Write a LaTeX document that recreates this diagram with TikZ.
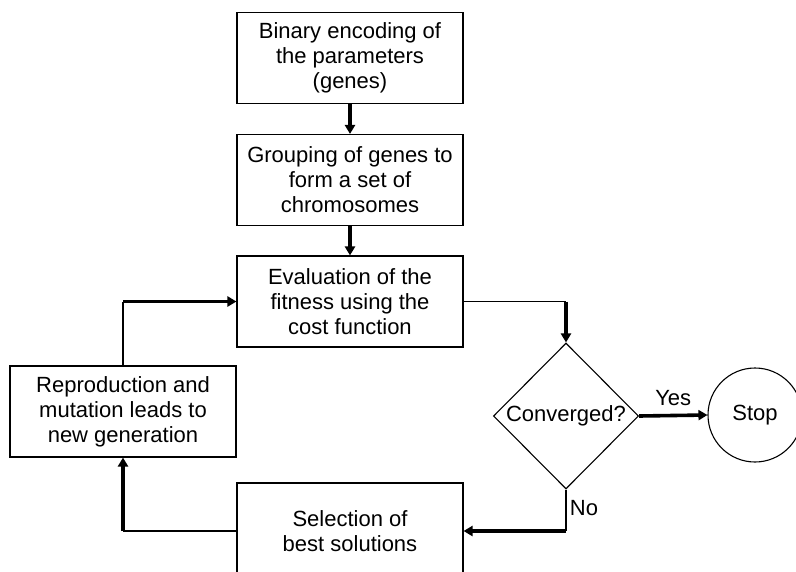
\documentclass[tikz,border=0pt]{standalone}
\usepackage{fontspec}
\setmainfont{Liberation Sans}
\usetikzlibrary{shapes.geometric,arrows.meta}

\begin{document}
\begin{tikzpicture}[x=1pt,y=-1pt,
  txt/.style={font=\fontsize{22}{25}\selectfont},
  box/.style={draw,line width=1.1pt,align=center,inner sep=0pt,
    minimum width=226pt,minimum height=91pt,txt},
  wire/.style={line width=1.1pt},
  flow/.style={line width=3.6pt,-{Triangle[length=9pt,width=10pt]}}]
\useasboundingbox (0,0) rectangle (796,571);
\clip (0,0) rectangle (796,571);
% boxes
\node[box] (enc) at (350,58) {Binary encoding of\\the parameters\\(genes)};
\node[box] (grp) at (350,180) {Grouping of genes to\\form a set of\\chromosomes};
\node[box] (eval) at (350,301.5) {Evaluation of the\\fitness using the\\cost function};
\node[box] (repro) at (123,411.5) {Reproduction and\\mutation leads to\\new generation};
\node[box,minimum height=96pt] (sel) at (350,531) {Selection of\\best solutions};
\node[diamond,draw,line width=1.1pt,inner sep=0pt,minimum width=145pt,minimum height=146pt,txt] (conv) at (566,416) {Converged?};
\node[circle,draw,line width=1.1pt,minimum size=94pt,txt] (stop) at (755,415) {Stop};
% connectors
\draw[flow] (enc) -- (grp);
\draw[flow] (grp) -- (eval);
\coordinate (k1) at (conv.north |- eval.east);
\draw[wire] (eval.east) -- (k1);
\draw[flow] (k1) -- (conv.north);
\draw[flow] (conv.east) -- node[above=5pt,txt] {Yes} (stop.west);
\coordinate (k2) at (conv.south |- sel.east);
\draw[wire] (conv.south) -- node[right,txt,pos=0.45] {No} (k2);
\draw[flow] (k2) -- (sel.east);
\coordinate (k3) at (repro.south |- sel.west);
\draw[wire] (sel.west) -- (k3);
\draw[flow] (k3) -- (repro.south);
\coordinate (k4) at (repro.north |- eval.west);
\draw[wire] (repro.north) -- (k4);
\draw[flow] (k4) -- (eval.west);
\end{tikzpicture}
\end{document}
